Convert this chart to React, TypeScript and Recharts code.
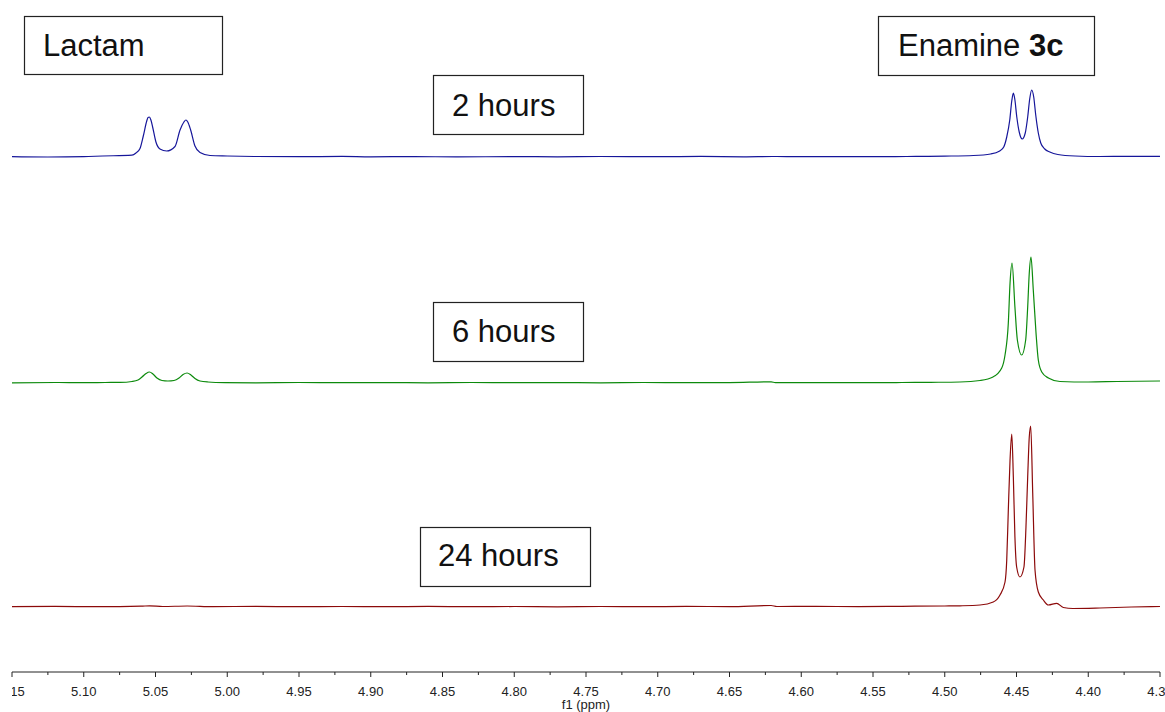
import React from "react";
import { LineChart, Line, XAxis, YAxis, Label } from "recharts";

// chemical shift axis (ppm), drawn high -> low
const ppmRange: [number, number] = [4.35, 5.15];
const majorTicks = [5.15, 5.1, 5.05, 5.0, 4.95, 4.9, 4.85, 4.8, 4.75, 4.7, 4.65, 4.6, 4.55, 4.5, 4.45, 4.4, 4.35];
const minorTicks = [5.125, 5.075, 5.025, 4.975, 4.925, 4.875, 4.825, 4.775, 4.725, 4.675, 4.625, 4.575, 4.525, 4.475, 4.425, 4.375];

// [ppm, intensity (a.u.)]
const spectrum2h: [number, number][] = [
  [5.15, 0.3], [5.125, 0.0], [5.1, 0.4], [5.0869, 1], [5.0664, 1.8], [5.0636, 4], [5.0608, 8.5],
  [5.0585, 21], [5.0561, 36], [5.0552, 39.5], [5.0543, 40], [5.0532, 37], [5.052, 30], [5.0497, 15],
  [5.0469, 8], [5.0422, 6], [5.0364, 10.5], [5.0329, 27], [5.0302, 35], [5.0288, 37], [5.0275, 35],
  [5.0255, 27], [5.0225, 11], [5.019, 4.5], [5.012, 1.5], [5.0, 1.0], [4.98, 0.5], [4.95, 0.3],
  [4.92, 0.6], [4.9, 0.2], [4.87, 0.4], [4.84, 0.1], [4.8, 0.4], [4.77, 0.2], [4.74, 0.5],
  [4.7, 0.3], [4.67, 0.6], [4.64, 0.2], [4.62, 0.5], [4.6, 0.3], [4.57, 0.4], [4.54, 0.3],
  [4.52, 0.6], [4.5, 0.9], [4.48, 1.5], [4.468, 3], [4.4617, 6], [4.4589, 10], [4.4568, 20],
  [4.4547, 37], [4.4533, 56], [4.4522, 64], [4.4512, 58], [4.4498, 40], [4.4481, 25], [4.446, 18],
  [4.4439, 24], [4.4422, 40], [4.4408, 58], [4.4394, 67], [4.438, 60], [4.4366, 42], [4.4348, 24],
  [4.4331, 14], [4.4303, 8], [4.4268, 5], [4.4212, 2.5], [4.4092, 1], [4.3918, 0.5], [4.37, 0.6],
  [4.35, 0.7],
];

const spectrum6h: [number, number][] = [
  [5.15, 0.2], [5.12, 0.5], [5.1, 0.3], [5.085, 0.5], [5.0747, 0.6], [5.0664, 1.5], [5.0622, 3],
  [5.0594, 6], [5.0566, 9.5], [5.0542, 11], [5.0518, 9], [5.049, 5], [5.0455, 2.5], [5.0413, 2],
  [5.0371, 2.5], [5.0336, 5], [5.0308, 8.5], [5.028, 10], [5.0253, 8], [5.0225, 4.5], [5.019, 2],
  [5.0134, 1], [5.0016, 0.4], [4.98, 0.2], [4.95, 0.5], [4.92, 0.3], [4.89, 0.4], [4.86, 0.2],
  [4.83, 0.5], [4.8, 0.3], [4.77, 0.4], [4.74, 0.2], [4.71, 0.5], [4.68, 0.3], [4.65, 0.4],
  [4.621, 1.2], [4.618, 0.3], [4.59, 0.4], [4.56, 0.3], [4.53, 0.5], [4.51, 0.7], [4.4894, 1],
  [4.4754, 2.5], [4.4664, 6], [4.4603, 15], [4.458, 28], [4.4557, 60], [4.4545, 100], [4.4531, 120],
  [4.4511, 76], [4.4494, 43], [4.4464, 28], [4.4436, 43], [4.4422, 76], [4.4411, 110], [4.4399, 126],
  [4.4383, 93], [4.4364, 50], [4.4348, 23], [4.4324, 11], [4.4278, 5], [4.4197, 1.5], [4.4, 1],
  [4.38, 1.5], [4.35, 2],
];

const spectrum24h: [number, number][] = [
  [5.15, 0.3], [5.12, 0.6], [5.09, 0.3], [5.06, 0.8], [5.054, 1.2], [5.045, 0.5], [5.028, 1],
  [5.01, 0.4], [4.98, 0.6], [4.95, 0.3], [4.92, 0.5], [4.89, 0.3], [4.86, 0.6], [4.83, 0.3],
  [4.8, 0.5], [4.77, 0.2], [4.74, 0.5], [4.71, 0.3], [4.68, 0.6], [4.65, 0.4], [4.621, 1.5],
  [4.617, 0.5], [4.59, 0.6], [4.56, 0.4], [4.53, 0.7], [4.5, 1], [4.4894, 1.2], [4.4754, 2],
  [4.4662, 5], [4.4615, 12], [4.458, 25], [4.4568, 47], [4.4557, 97], [4.4545, 147], [4.4533, 173],
  [4.4522, 130], [4.4511, 70], [4.4499, 40], [4.4476, 30], [4.4448, 40], [4.4434, 80], [4.4422, 130],
  [4.4411, 170], [4.4401, 181], [4.4387, 114], [4.4371, 37], [4.4348, 15], [4.4313, 7], [4.4278, 2],
  [4.422, 3.7], [4.4174, -0.5], [4.4106, -1.5], [4.3918, -1], [4.37, 0], [4.35, 0.5],
];

const timeLabels = ["2 hours", "6 hours", "24 hours"];
const peakLabels = ["Lactam", "Enamine", "3c"];

const FONT = "'Liberation Sans', Arial, Helvetica, sans-serif";
const W = 1165;
const H = 712;
const AXIS_Y = 672; // plot bottom

const toRows = (s: [number, number][]) => s.map(([ppm, i]) => ({ ppm, i }));

// each spectrum gets its own hidden y axis so the baselines stack
const traces = [
  { id: "t2", data: toRows(spectrum2h), color: "#16169a", baseline: 157 },
  { id: "t6", data: toRows(spectrum6h), color: "#0c8a0c", baseline: 383 },
  { id: "t24", data: toRows(spectrum24h), color: "#8c0a0a", baseline: 607 },
];

function PpmTick(props: any) {
  const { x, y, payload, index } = props;
  const v: number = payload.value;
  const major = majorTicks.some((t) => Math.abs(t - v) < 1e-6);
  const clipId = `ppm-clip-${index}`;
  return (
    <g>
      <defs>
        <clipPath id={clipId} clipPathUnits="userSpaceOnUse">
          <rect x={12} y={0} width={W} height={H} />
        </clipPath>
      </defs>
      <line x1={x} y1={y} x2={x} y2={y + (major ? 5 : 3)} stroke="#222" strokeWidth={1} />
      {major && (
        <text
          x={x}
          y={y + 24}
          textAnchor="middle"
          fontSize={13}
          fontFamily={FONT}
          fill="#222"
          clipPath={`url(#${clipId})`}
        >
          {v.toFixed(2)}
        </text>
      )}
    </g>
  );
}

function Tag({ x, y, w, h, tx, ty, children }: any) {
  return (
    <g>
      <rect x={x + 0.5} y={y + 0.5} width={w} height={h} fill="#fff" stroke="#222" strokeWidth={1.2} />
      <text x={tx} y={ty} fontSize={31} fontFamily={FONT} fill="#111">
        {children}
      </text>
    </g>
  );
}

export default function App() {
  const ticks = [...majorTicks, ...minorTicks].sort((a, b) => b - a);
  return (
    <div style={{ position: "absolute", left: 0, top: 0, width: W, height: H, background: "#fff" }}>
      <LineChart width={W} height={H} margin={{ top: 0, right: 5, bottom: 0, left: 12 }}>
        <XAxis
          type="number"
          dataKey="ppm"
          domain={ppmRange}
          reversed
          allowDataOverflow
          ticks={ticks}
          interval={0}
          height={40}
          tickSize={0}
          tickMargin={0}
          tickLine={false}
          axisLine={{ stroke: "#222", strokeWidth: 1 }}
          tick={<PpmTick />}
        >
          <Label
            value="f1 (ppm)"
            position="insideBottom"
            offset={3}
            style={{ fontSize: 13, fontFamily: FONT, fill: "#222" }}
          />
        </XAxis>
        {traces.map((t) => (
          <YAxis
            key={t.id}
            yAxisId={t.id}
            type="number"
            hide
            allowDataOverflow
            domain={[t.baseline - AXIS_Y, t.baseline]}
          />
        ))}
        {traces.map((t) => (
          <Line
            key={t.id}
            yAxisId={t.id}
            data={t.data}
            dataKey="i"
            type="monotone"
            stroke={t.color}
            strokeWidth={1.2}
            dot={false}
            activeDot={false}
            isAnimationActive={false}
          />
        ))}
      </LineChart>
      <svg
        width={W}
        height={H}
        style={{ position: "absolute", left: 0, top: 0, pointerEvents: "none" }}
      >
        <Tag x={24} y={16} w={198} h={58} tx={43} ty={56}>
          {peakLabels[0]}
        </Tag>
        <Tag x={878} y={16} w={216} h={59} tx={898} ty={56}>
          {peakLabels[1] + " "}
          <tspan fontWeight="bold">{peakLabels[2]}</tspan>
        </Tag>
        <Tag x={433} y={75} w={150} h={59} tx={452} ty={116}>
          {timeLabels[0]}
        </Tag>
        <Tag x={433} y={302} w={150} h={59} tx={452} ty={342}>
          {timeLabels[1]}
        </Tag>
        <Tag x={420} y={527} w={170} h={59} tx={438} ty={566}>
          {timeLabels[2]}
        </Tag>
      </svg>
    </div>
  );
}
